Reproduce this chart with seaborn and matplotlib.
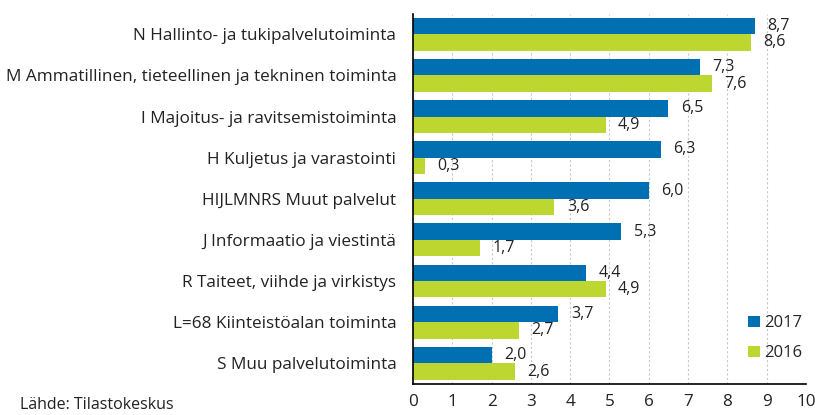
import matplotlib
matplotlib.use("Agg")
import matplotlib.pyplot as plt
import seaborn as sns
import pandas as pd

categories = [
    "N Hallinto- ja tukipalvelutoiminta",
    "M Ammatillinen, tieteellinen ja tekninen toiminta",
    "I Majoitus- ja ravitsemistoiminta",
    "H Kuljetus ja varastointi",
    "HIJLMNRS Muut palvelut",
    "J Informaatio ja viestintä",
    "R Taiteet, viihde ja virkistys",
    "L=68 Kiinteistöalan toiminta",
    "S Muu palvelutoiminta",
]
values_2017 = [8.7, 7.3, 6.5, 6.3, 6.0, 5.3, 4.4, 3.7, 2.0]
values_2016 = [8.6, 7.6, 4.9, 0.3, 3.6, 1.7, 4.9, 2.7, 2.6]
series = ["2017", "2016"]
x_ticks = list(range(0, 11))

df = pd.DataFrame({
    "cat": categories * 2,
    "value": values_2017 + values_2016,
    "year": ["2017"] * len(categories) + ["2016"] * len(categories),
})

sns.set_style("white")
plt.rcParams["font.family"] = ["Open Sans", "DejaVu Sans"]

fig = plt.figure(figsize=(8.15, 4.15), dpi=100)
ax = fig.add_axes([0.5067, 0.075, 0.4822, 0.892])

palette = {"2017": "#0070B2", "2016": "#BED730"}
sns.barplot(data=df, x="value", y="cat", hue="year", hue_order=series,
            order=categories, palette=palette, width=0.8, linewidth=0,
            saturation=1, ax=ax)

for cont in ax.containers:
    labels = [f"{v:.1f}".replace(".", ",") for v in cont.datavalues]
    ax.bar_label(cont, labels=labels, padding=9, fontsize=11.5, color="#222222")

ax.set_xlim(0, 10)
ax.set_xticks(x_ticks)
ax.set_xticklabels([str(t) for t in x_ticks])
ax.set_xlabel("")
ax.set_ylabel("")
ax.grid(axis="x", color="#c8c8c8", linestyle=(0, (2, 2)), linewidth=0.8)
ax.grid(axis="y", visible=False)
ax.set_axisbelow(True)
for s in ["top", "right"]:
    ax.spines[s].set_visible(False)
ax.spines["left"].set_color("black")
ax.spines["bottom"].set_color("black")
ax.spines["left"].set_linewidth(1.2)
ax.spines["bottom"].set_linewidth(1.2)
ax.tick_params(axis="y", length=0, labelsize=12.3, colors="#222222", pad=12)
ax.tick_params(axis="x", length=0, labelsize=12.3, colors="#222222", pad=7)

leg = ax.legend(loc="lower right", bbox_to_anchor=(1.03, 0.02), frameon=False,
                fontsize=12, handlelength=0.7, handleheight=0.7,
                handletextpad=0.3, labelspacing=0.85)

fig.text(0.025, 0.004, "Lähde: Tilastokeskus", fontsize=11.5, color="#222222",
         ha="left", va="bottom")

fig.savefig("out.png", dpi=100)
